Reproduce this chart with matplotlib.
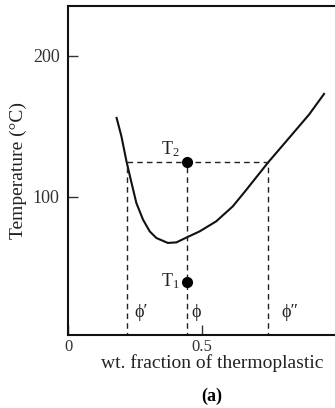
import matplotlib
matplotlib.use("Agg")
import matplotlib.pyplot as plt

plt.rcParams['font.family'] = ['Liberation Serif', 'DejaVu Serif']
plt.rcParams['mathtext.fontset'] = 'custom'
plt.rcParams['mathtext.rm'] = 'Liberation Serif'
plt.rcParams['mathtext.it'] = 'Liberation Serif:italic'

# binodal curve
curve_x = [0.182, 0.200, 0.219, 0.238, 0.256, 0.281, 0.306, 0.331, 0.374, 0.406,
           0.440, 0.493, 0.555, 0.617, 0.660, 0.751, 0.828, 0.903, 0.959]
curve_T = [155.8, 142.8, 125.0, 109.7, 95.5, 83.7, 75.4, 70.7, 67.2, 67.6,
           70.7, 75.4, 82.5, 93.1, 103.0, 124.6, 141.6, 158.2, 172.8]

phi_1 = 0.221   # phi'
phi_0 = 0.444   # overall composition
phi_2 = 0.750   # phi''
T_2 = 124.5
T_1 = 39.7

xticks = [0, 0.5]
xticklabels = ['0', '0.5']
yticks = [100, 200]

fig = plt.figure(figsize=(3.35, 4.08), dpi=100)
ax = fig.add_axes([0.203, 0.179, 0.797, 0.806])

ax.plot(curve_x, curve_T, color='#111111', lw=1.5, solid_joinstyle='round')

dash = (0, (4, 3))
ax.plot([phi_1, phi_2], [T_2, T_2], color='#222222', lw=1, linestyle=dash)
for xv in (phi_1, phi_0, phi_2):
    ax.plot([xv, xv], [0, T_2], color='#222222', lw=1, linestyle=dash)

ax.plot([phi_0, phi_0], [T_2, T_1], 'o', color='black', ms=7)

ax.text(0.384, 134, r'T$_\mathrm{2}$', ha='center', va='center', fontsize=13, color='#222222')
ax.text(0.385, 40, r'T$_\mathrm{1}$', ha='center', va='center', fontsize=13, color='#222222')
ax.text(0.275, 17.7, 'ϕ′', ha='center', va='center', fontsize=13, color='#222222')
ax.text(0.48, 17.7, 'ϕ', ha='center', va='center', fontsize=13, color='#222222')
ax.text(0.83, 17.7, 'ϕ″', ha='center', va='center', fontsize=13, color='#222222')

ax.set_xlim(0, 1.0)
ax.set_ylim(2, 235)
ax.set_xticks(xticks)
ax.set_xticklabels(xticklabels)
ax.set_yticks(yticks)
ax.tick_params(direction='in', length=7, width=1, colors='#333333', pad=6)
ax.tick_params(axis='x', labelsize=12, pad=3)
ax.tick_params(axis='y', labelsize=13)
ax.spines['right'].set_visible(False)
for s in ('left', 'top', 'bottom'):
    ax.spines[s].set_linewidth(1.5)
    ax.spines[s].set_color('#111111')

ax.set_xlabel('wt. fraction of thermoplastic', fontsize=14, labelpad=0, color='#222222')
ax.xaxis.set_label_coords(0.54, -0.058)
ax.set_ylabel('Temperature (°C)', fontsize=14, color='#222222', labelpad=4)
fig.text(0.633, 0.028, '(a)', ha='center', va='center', fontsize=13, fontweight='bold')

fig.savefig('out.png', dpi=100)
